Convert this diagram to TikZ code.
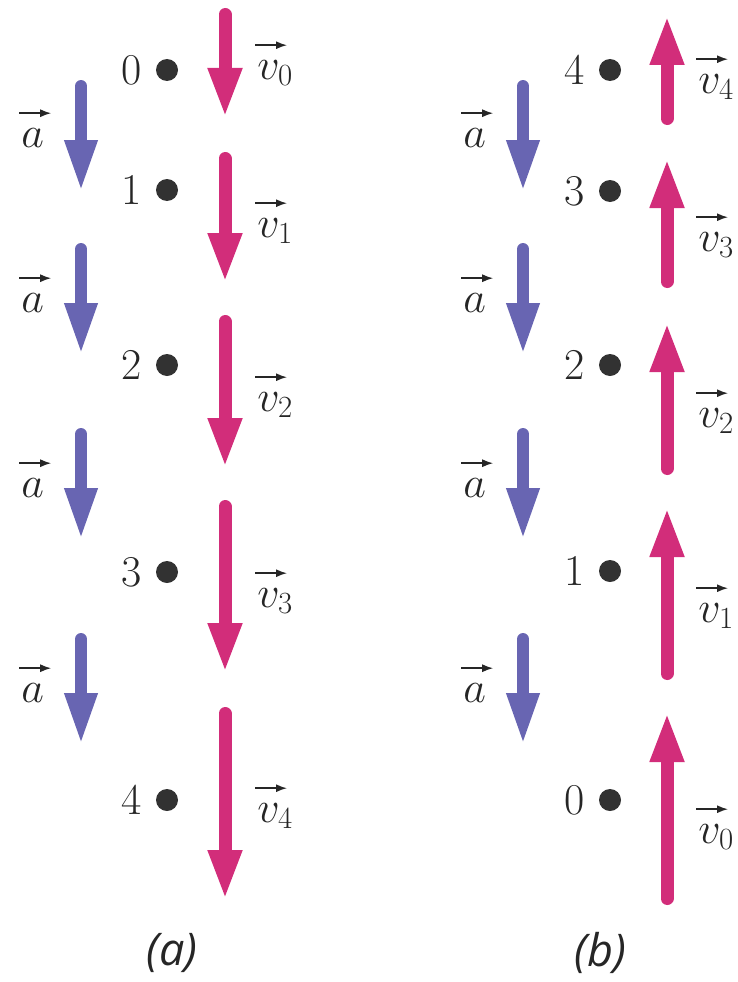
\RequirePackage{fix-cm}
\documentclass[tikz,border=0pt]{standalone}
\usepackage{fontspec}
\newfontfamily\capfont{Open Sans}
\usetikzlibrary{arrows.meta,positioning}
\definecolor{velpink}{RGB}{210,45,122}
\definecolor{accblue}{RGB}{104,101,178}
\definecolor{dotgray}{RGB}{50,50,50}
% vector label: thin arrow set high above the letter
\newcommand{\vlab}[2]{$\rlap{\hspace*{-3pt}\raisebox{30pt}{\tikz\draw[black!85,line width=1.6pt,-{Latex[length=11pt,width=8pt]}] (0pt,0pt) -- (32pt,0pt);}}#1_{#2}$}

\begin{document}
\begin{tikzpicture}[x=1pt,y=-1pt,
	vel/.style={velpink,line width=13pt,line cap=round,-{Triangle[length=50pt,width=31pt]}},
	acc/.style={accblue,line width=12pt,line cap=round,-{Triangle[length=52pt,width=30pt]}},
	dot/.style={circle,fill=dotgray,minimum size=22pt,inner sep=0pt},
	lbl/.style={font=\fontsize{44}{48}\selectfont,inner sep=0pt,text=black!85},
	captext/.style={font=\capfont\itshape\fontsize{45}{50}\selectfont,inner sep=0pt,text=black!85},
	node distance=14pt]
	\useasboundingbox (0,0) rectangle (738,982);
	
	% ---------- (a) moving down, speeding up ----------
	% positions
	\node[dot] (a0) at (167,70) {};
	\node[dot] (a1) at (167,190) {};
	\node[dot] (a2) at (167,365) {};
	\node[dot] (a3) at (167,572) {};
	\node[dot] (a4) at (167,800) {};
	\node[lbl,left=of a0] (na0) {0};
	\node[lbl,left=of a1] (na1) {1};
	\node[lbl,left=of a2] (na2) {2};
	\node[lbl,left=of a3] (na3) {3};
	\node[lbl,left=of a4] (na4) {4};
	
	% velocities
	\coordinate (va0s) at (225,14.5);  \coordinate (va0e) at (225,118);
	\coordinate (va1s) at (225,158.5); \coordinate (va1e) at (225,283);
	\coordinate (va2s) at (225,321.5); \coordinate (va2e) at (225,468);
	\coordinate (va3s) at (225,506.5); \coordinate (va3e) at (225,673);
	\coordinate (va4s) at (225,713.5); \coordinate (va4e) at (225,900);
	\draw[vel] (va0s) -- (va0e);
	\draw[vel] (va1s) -- (va1e);
	\draw[vel] (va2s) -- (va2e);
	\draw[vel] (va3s) -- (va3e);
	\draw[vel] (va4s) -- (va4e);
	\node[lbl] (lva0) at (275,63.5)  {\vlab{v}{0}};
	\node[lbl] (lva1) at (275,221.5) {\vlab{v}{1}};
	\node[lbl] (lva2) at (275,395.5) {\vlab{v}{2}};
	\node[lbl] (lva3) at (275,591.5) {\vlab{v}{3}};
	\node[lbl] (lva4) at (275,806.5) {\vlab{v}{4}};
	
	% acceleration, always down
	\coordinate (aa1s) at (81,86);  \coordinate (aa1e) at (81,192);
	\coordinate (aa2s) at (81,249); \coordinate (aa2e) at (81,355);
	\coordinate (aa3s) at (81,434); \coordinate (aa3e) at (81,540);
	\coordinate (aa4s) at (81,639); \coordinate (aa4e) at (81,745);
	\draw[acc] (aa1s) -- (aa1e);
	\draw[acc] (aa2s) -- (aa2e);
	\draw[acc] (aa3s) -- (aa3e);
	\draw[acc] (aa4s) -- (aa4e);
	\node[lbl] (laa1) at (33,131.5) {\vlab{a}{}};
	\node[lbl] (laa2) at (33,296.5) {\vlab{a}{}};
	\node[lbl] (laa3) at (33,481.5) {\vlab{a}{}};
	\node[lbl] (laa4) at (33,686.5) {\vlab{a}{}};
	
	% ---------- (b) moving up, slowing down ----------
	\node[dot] (b4) at (610,70) {};
	\node[dot] (b3) at (610,191) {};
	\node[dot] (b2) at (610,365) {};
	\node[dot] (b1) at (610,571) {};
	\node[dot] (b0) at (610,800) {};
	\node[lbl,left=of b4] (nb4) {4};
	\node[lbl,left=of b3] (nb3) {3};
	\node[lbl,left=of b2] (nb2) {2};
	\node[lbl,left=of b1] (nb1) {1};
	\node[lbl,left=of b0] (nb0) {0};
	
	\coordinate (vb4s) at (667,118.5); \coordinate (vb4e) at (667,15);
	\coordinate (vb3s) at (667,281.5); \coordinate (vb3e) at (667,158);
	\coordinate (vb2s) at (667,468.5); \coordinate (vb2e) at (667,322);
	\coordinate (vb1s) at (667,673.5); \coordinate (vb1e) at (667,507);
	\coordinate (vb0s) at (667,898.5); \coordinate (vb0e) at (667,712);
	\draw[vel] (vb4s) -- (vb4e);
	\draw[vel] (vb3s) -- (vb3e);
	\draw[vel] (vb2s) -- (vb2e);
	\draw[vel] (vb1s) -- (vb1e);
	\draw[vel] (vb0s) -- (vb0e);
	\node[lbl] (lvb4) at (716,77.5)  {\vlab{v}{4}};
	\node[lbl] (lvb3) at (716,235.5) {\vlab{v}{3}};
	\node[lbl] (lvb2) at (716,411.5) {\vlab{v}{2}};
	\node[lbl] (lvb1) at (716,606.5) {\vlab{v}{1}};
	\node[lbl] (lvb0) at (716,827.5) {\vlab{v}{0}};
	
	\coordinate (ab1s) at (523,86);  \coordinate (ab1e) at (523,192);
	\coordinate (ab2s) at (523,249); \coordinate (ab2e) at (523,355);
	\coordinate (ab3s) at (523,434); \coordinate (ab3e) at (523,540);
	\coordinate (ab4s) at (523,639); \coordinate (ab4e) at (523,745);
	\draw[acc] (ab1s) -- (ab1e);
	\draw[acc] (ab2s) -- (ab2e);
	\draw[acc] (ab3s) -- (ab3e);
	\draw[acc] (ab4s) -- (ab4e);
	\node[lbl] (lab1) at (475,131.5) {\vlab{a}{}};
	\node[lbl] (lab2) at (475,296.5) {\vlab{a}{}};
	\node[lbl] (lab3) at (475,481.5) {\vlab{a}{}};
	\node[lbl] (lab4) at (475,686.5) {\vlab{a}{}};
	
	% captions
	\node[captext] (capa) at (172,953) {(a)};
	\node[captext] (capb) at (600,953) {(b)};
\end{tikzpicture}
\end{document}
